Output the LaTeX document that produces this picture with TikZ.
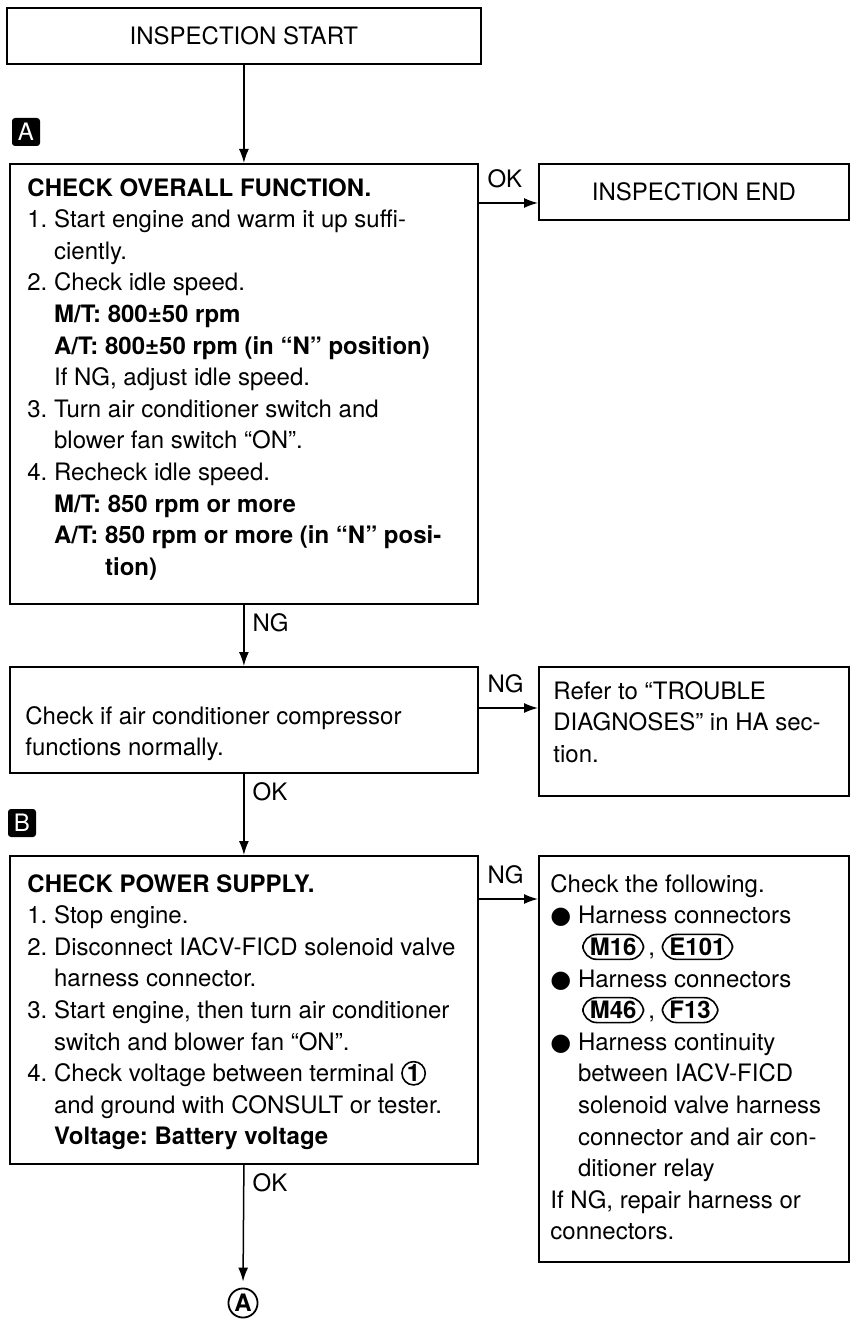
\documentclass[tikz,border=0pt]{standalone}
\usepackage{fontspec}
\setmainfont{TeX Gyre Heros}
\newfontfamily\symfont{DejaVu Sans}
\usetikzlibrary{arrows.meta}
\frenchspacing

\newcommand{\boxfont}{\fontsize{12}{15.8}\selectfont}
\newcommand{\ind}{\hphantom{1. }}
\newcommand{\blt}{{\symfont ●}\ }
\newcommand{\bind}{\hphantom{{\symfont ●}\ }}
\newcommand{\conn}[1]{\tikz[baseline=(cn.base)]\node[draw, line width=0.8pt, rounded corners=7pt,
  inner xsep=3.5pt, inner ysep=1.8pt, minimum size=0pt, anchor=base, font=\boxfont\bfseries] (cn) {#1};}
\newcommand{\circnum}[1]{\tikz[baseline=(cc.base)]\node[draw, circle, line width=0.8pt,
  inner sep=0.3pt, minimum size=0pt, anchor=base, font=\boxfont\bfseries] (cc) {#1};}

\begin{document}
\begin{tikzpicture}[x=0.5pt, y=-0.5pt, >={Latex[length=7pt,width=5pt]},
  box/.style={draw, line width=0.9pt, anchor=north west, inner sep=0pt, font=\boxfont},
  txt/.style={anchor=north west, align=left, inner sep=0pt, font=\boxfont},
  lbl/.style={inner sep=4pt, font=\boxfont},
  tag/.style={fill=black, text=white, rounded corners=1.5pt, minimum size=14pt, inner sep=0pt, font=\boxfont},
  arr/.style={->, line width=0.75pt}]
  \useasboundingbox (0,0) rectangle (850,1320);

  % Start
  \node[box, minimum width=237pt, minimum height=28pt] (insStart) at (6,7) {INSPECTION START};

  % Pas A -- functionare generala
  \node[tag] (tagA) at (26,132) {A};
  \node[box, minimum width=234pt, minimum height=220pt] (chkAll) at (9,163) {};
  \node[txt] (chkAllTxt) at (27,178) {\textbf{CHECK OVERALL FUNCTION.}\\
    1. Start engine and warm it up suffi-\\
    \ind ciently.\\
    2. Check idle speed.\\
    \ind\textbf{M/T: 800±50 rpm}\\
    \ind\textbf{A/T: 800±50 rpm (in ``N'' position)}\\
    \ind If NG, adjust idle speed.\\
    3. Turn air conditioner switch and\\
    \ind blower fan switch ``ON''.\\
    4. Recheck idle speed.\\
    \ind\textbf{M/T: 850 rpm or more}\\
    \ind\textbf{A/T: 850 rpm or more (in ``N'' posi-}\\
    \ind\textbf{\hphantom{A/T: }tion)}};
  \node[box, minimum width=155pt, minimum height=28pt] (insEnd) at (538,163) {INSPECTION END};

  % Compresor
  \node[box, minimum width=234pt, minimum height=53pt] (chkComp) at (9,666) {};
  \node[txt] (chkCompTxt) at (25,706) {Check if air conditioner compressor\\
    functions normally.};
  \node[box, minimum width=155pt, minimum height=64.5pt] (refHA) at (538,666) {};
  \node[txt] (refHATxt) at (553,681) {Refer to ``TROUBLE\\
    DIAGNOSES'' in HA sec-\\
    tion.};

  % Pas B -- alimentare
  \node[tag] (tagB) at (22,823) {B};
  \node[box, minimum width=234pt, minimum height=154pt] (chkPwr) at (9,855) {};
  \node[txt] (chkPwrTxt) at (27,874) {\textbf{CHECK POWER SUPPLY.}\\
    1. Stop engine.\\
    2. Disconnect IACV-FICD solenoid valve\\
    \ind harness connector.\\
    3. Start engine, then turn air conditioner\\
    \ind switch and blower fan ``ON''.\\
    4. Check voltage between terminal \circnum{1}\\
    \ind and ground with CONSULT or tester.\\
    \ind\textbf{Voltage: Battery voltage}};
  \node[box, minimum width=155pt, minimum height=203pt] (fixHarn) at (538,855) {};
  \node[txt] (fixHarnTxt) at (550,874) {Check the following.\\
    \blt Harness connectors\\
    \bind\,\conn{M16}\,, \conn{E101}\\
    \blt Harness connectors\\
    \bind\,\conn{M46}\,, \conn{F13}\\
    \blt Harness continuity\\
    \bind between IACV-FICD\\
    \bind solenoid valve harness\\
    \bind connector and air con-\\
    \bind ditioner relay\\
    If NG, repair harness or\\
    connectors.};

  % Legatura spre A
  \node[draw, circle, line width=0.9pt, inner sep=0.8pt, font=\boxfont\bfseries] (toA) at (243,1303) {A};

  % Sageti
  \draw[arr] (insStart.south) -- (chkAll.north);
  \draw[arr] ([yshift=-20pt]chkAll.north east) node[lbl, above right, yshift=3pt] {OK}
    -- ([yshift=-20pt]insEnd.north west);
  \draw[arr] (chkAll.south) node[lbl, below right] {NG} -- (chkComp.north);
  \draw[arr] ([yshift=-21pt]chkComp.north east) node[lbl, above right, yshift=3pt] {NG}
    -- ([yshift=-21pt]refHA.north west);
  \draw[arr] (chkComp.south) node[lbl, below right] {OK} -- (chkPwr.north);
  \draw[arr] ([yshift=-22pt]chkPwr.north east) node[lbl, above right, yshift=3pt] {NG}
    -- ([yshift=-22pt]fixHarn.north west);
  \draw[arr, shorten >=3pt] (chkPwr.south) node[lbl, below right] {OK} -- (toA.north);
\end{tikzpicture}
\end{document}
